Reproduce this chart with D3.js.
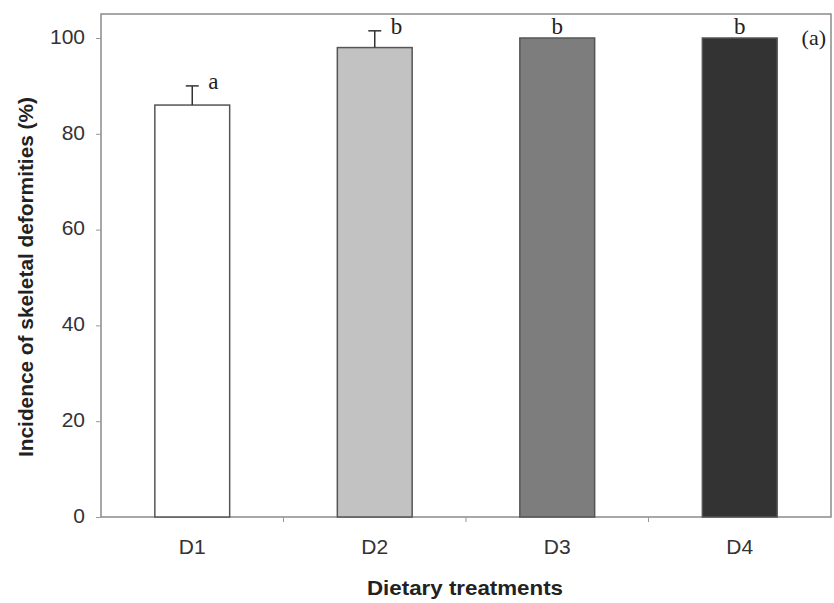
<!DOCTYPE html>
<html><head><meta charset="utf-8">
<script src="https://cdn.jsdelivr.net/npm/d3@7"></script>
<style>body{margin:0;background:#fff}</style>
</head><body>
<svg id="c" width="834" height="603"></svg>
<script>
const categories = ["D1","D2","D3","D4"];
const values = [86, 98, 100, 100];
const errors = [4, 3.5, 0, 0];
const letters = ["a","b","b","b"];
const colors = ["#ffffff","#c2c2c2","#7d7d7d","#333333"];
const yTicks = [0,20,40,60,80,100];

const svg = d3.select("#c");
const L = 101, R = 831, T = 14, B = 517;
const x = d3.scaleBand().domain(categories).range([L, R]).padding(0);
const y = d3.scaleLinear().domain([0, 100]).range([B, 38]);
const bw = x.bandwidth() * 0.41;
const sans = "Arial, Liberation Sans, sans-serif";
const serif = "Liberation Serif, Times New Roman, serif";

// frame
svg.append("rect").attr("x", L).attr("y", T).attr("width", R - L).attr("height", B - T)
  .attr("fill", "none").attr("stroke", "#8a8a8a").attr("stroke-width", 1.5);

// y axis
const ya = svg.append("g").attr("transform", `translate(${L},0)`)
  .call(d3.axisLeft(y).tickValues(yTicks).tickSize(5).tickPadding(11));
ya.select(".domain").remove();
ya.selectAll("line").attr("stroke", "#999");
ya.selectAll("text").attr("font-family", sans).attr("dy", "0.25em")
  .attr("font-size", 21).attr("fill", "#333");

// x axis
const xa = svg.append("g").attr("transform", `translate(0,${B})`)
  .call(d3.axisBottom(x).tickSize(0).tickPadding(22));
xa.select(".domain").remove();
xa.selectAll("text").attr("font-family", sans)
  .attr("font-size", 21).attr("fill", "#333");
// separator ticks between categories
svg.append("g").selectAll("line").data(categories.slice(1)).join("line")
  .attr("x1", d => x(d)).attr("x2", d => x(d))
  .attr("y1", B).attr("y2", B + 5).attr("stroke", "#999");

// bars
svg.append("g").selectAll("rect").data(categories).join("rect")
  .attr("x", (d) => x(d) + x.bandwidth() / 2 - bw / 2)
  .attr("y", (d, i) => y(values[i]))
  .attr("width", bw)
  .attr("height", (d, i) => y(0) - y(values[i]))
  .attr("fill", (d, i) => colors[i])
  .attr("stroke", "#555").attr("stroke-width", 1.5);

// error bars
categories.forEach((d, i) => {
  if (errors[i] > 0) {
    const cx = x(d) + x.bandwidth() / 2;
    svg.append("line").attr("x1", cx).attr("x2", cx)
      .attr("y1", y(values[i])).attr("y2", y(values[i] + errors[i]))
      .attr("stroke", "#333").attr("stroke-width", 1.5);
    svg.append("line").attr("x1", cx - 6.5).attr("x2", cx + 6.5)
      .attr("y1", y(values[i] + errors[i])).attr("y2", y(values[i] + errors[i]))
      .attr("stroke", "#333").attr("stroke-width", 1.5);
  }
});

// letters
svg.append("g").selectAll("text").data(categories).join("text")
  .attr("x", (d, i) => x(d) + x.bandwidth() / 2 + (errors[i] > 0 ? 16 : 0))
  .attr("y", (d, i) => y(values[i] + errors[i]) + (errors[i] > 0 ? 3 : -4))
  .attr("text-anchor", (d, i) => errors[i] > 0 ? "start" : "middle")
  .attr("font-family", serif)
  .attr("font-size", 23).attr("fill", "#222")
  .text((d, i) => letters[i]);

svg.append("text").attr("x", 826).attr("y", 45).attr("text-anchor", "end")
  .attr("font-family", serif)
  .attr("font-size", 22).attr("fill", "#222").text("(a)");

// titles
svg.append("text").attr("x", 465).attr("y", 595).attr("text-anchor", "middle")
  .attr("font-family", sans).attr("font-weight", "bold")
  .attr("font-size", 21).attr("textLength", 196).attr("lengthAdjust", "spacingAndGlyphs")
  .attr("fill", "#222").text("Dietary treatments");
svg.append("text").attr("transform", "translate(33,277) rotate(-90)").attr("text-anchor", "middle")
  .attr("font-family", sans).attr("font-weight", "bold")
  .attr("font-size", 20).attr("textLength", 360).attr("lengthAdjust", "spacingAndGlyphs")
  .attr("fill", "#222").text("Incidence of skeletal deformities (%)");
</script>
</body></html>
